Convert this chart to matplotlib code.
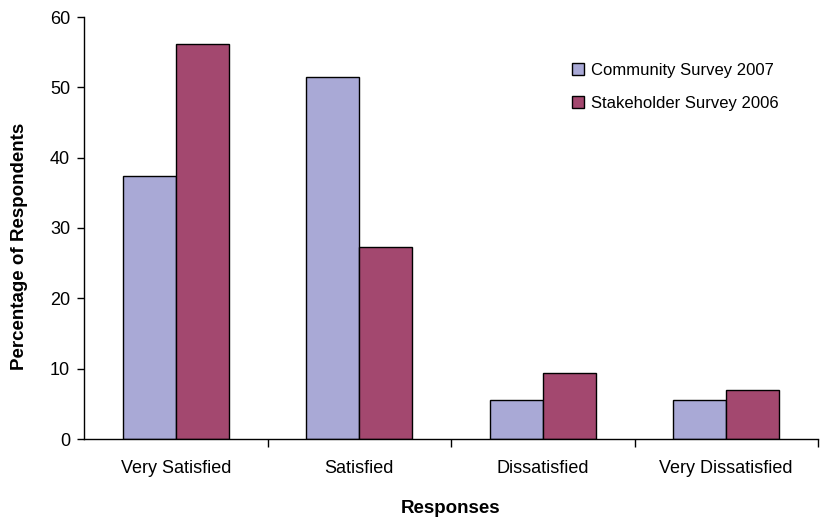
import matplotlib
matplotlib.use("Agg")
import matplotlib.pyplot as plt
import numpy as np
from matplotlib.ticker import FixedLocator, NullFormatter, FixedFormatter

categories = ["Very Satisfied", "Satisfied", "Dissatisfied", "Very Dissatisfied"]
series_names = ["Community Survey 2007", "Stakeholder Survey 2006"]
community_2007 = [37.4, 51.4, 5.6, 5.6]
stakeholder_2006 = [56.2, 27.3, 9.4, 6.9]
y_ticks = [0, 10, 20, 30, 40, 50, 60]

plt.rcParams["font.family"] = ["Liberation Sans", "DejaVu Sans"]

fig = plt.figure(figsize=(8.26, 5.19), dpi=100)
ax = fig.add_axes([84 / 826, 80 / 519, (818 - 84) / 826, (439 - 17) / 519])

x = np.arange(len(categories))
w = 0.29
colors = ["#A9A9D6", "#A3486F"]
ax.bar(x - w / 2, community_2007, w, color=colors[0], edgecolor="black",
       linewidth=1.0, label=series_names[0])
ax.bar(x + w / 2, stakeholder_2006, w, color=colors[1], edgecolor="black",
       linewidth=1.0, label=series_names[1])

ax.set_xlim(-0.5, len(categories) - 0.5)
ax.set_ylim(0, 60)
ax.set_yticks(y_ticks)

# category boundaries get the tick marks, labels sit at the centres
ax.xaxis.set_major_locator(FixedLocator(np.arange(len(categories)) + 0.5))
ax.xaxis.set_major_formatter(NullFormatter())
ax.xaxis.set_minor_locator(FixedLocator(x))
ax.xaxis.set_minor_formatter(FixedFormatter(categories))
ax.tick_params(axis="x", which="major", direction="out", length=6, width=1)
ax.tick_params(axis="x", which="minor", length=0, pad=15, labelsize=13)
ax.tick_params(axis="y", direction="out", length=5, width=1, pad=5, labelsize=13)

for s in ["top", "right"]:
    ax.spines[s].set_visible(False)
for s in ["left", "bottom"]:
    ax.spines[s].set_linewidth(1.0)

ax.set_ylabel("Percentage of Respondents", fontsize=13.5, fontweight="bold")
ax.yaxis.set_label_coords((28 - 84) / 734, (439 - 246) / 422)
ax.set_xlabel("Responses", fontsize=13.5, fontweight="bold")
ax.xaxis.set_label_coords(0.5, (439 - 500) / 422)

leg = ax.legend(loc="upper left", bbox_to_anchor=(565 / 826, 1 - 56 / 519),
                bbox_transform=fig.transFigure, frameon=False, fontsize=12,
                handlelength=0.75, handleheight=0.75, handletextpad=0.4,
                labelspacing=1.1, borderaxespad=0)

fig.savefig("out.png", dpi=100)
